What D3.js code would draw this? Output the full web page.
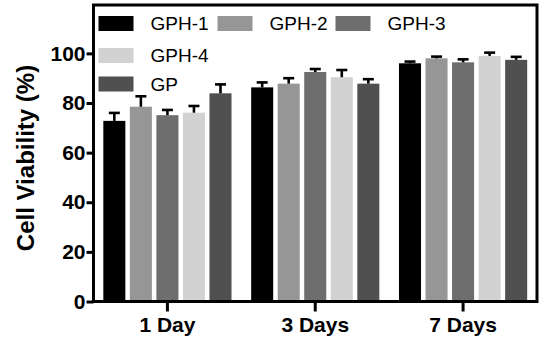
<!DOCTYPE html>
<html>
<head>
<meta charset="utf-8">
<script src="https://cdn.jsdelivr.net/npm/d3@7"></script>
<style>
  body { margin: 0; background: #fff; }
  svg { display: block; font-family: "Liberation Sans", Arial, sans-serif; }
</style>
</head>
<body>
<svg width="550" height="341"></svg>
<script>
(function (d3) {
  'use strict';

  const days = ['1 Day', '3 Days', '7 Days'];
  const groups = ['GPH-1', 'GPH-2', 'GPH-3', 'GPH-4', 'GP'];
  const colors = ['#000000', '#969696', '#6e6e6e', '#d2d2d2', '#505050'];

  // mean viability per group, one array per day
  const day1 = [72.8, 78.5, 75.1, 76.1, 83.9];
  const day3 = [86.3, 87.8, 92.5, 90.4, 87.8];
  const day7 = [96.0, 98.0, 96.4, 99.0, 97.4];
  // error bars (upper only)
  const err1 = [3.2, 4.2, 2.1, 2.7, 3.6];
  const err3 = [2.0, 2.2, 1.2, 2.9, 1.8];
  const err7 = [0.7, 0.7, 1.2, 1.3, 1.2];

  const yTicks = [0, 20, 40, 60, 80, 100];

  const means = [day1, day3, day7];
  const errs = [err1, err3, err7];
  const data = [];
  days.forEach((day, i) => {
    groups.forEach((g, j) => {
      data.push({ day, group: g, value: means[i][j], err: errs[i][j] });
    });
  });

  const svg = d3.select('svg');
  const frame = { left: 93.5, right: 537, top: 5, bottom: 301.5 };

  const xScale = d3.scaleBand()
    .domain(days)
    .range([frame.left, frame.right])
    .padding(0);

  const xInner = d3.scaleBand()
    .domain(groups)
    .range([0, xScale.bandwidth()])
    .paddingInner(0.17)
    .paddingOuter(0.37);

  const yScale = d3.scaleLinear()
    .domain([0, 119.5])
    .range([frame.bottom, frame.top]);

  const color = d3.scaleOrdinal().domain(groups).range(colors);

  // bars
  svg.append('g').selectAll('rect').data(data)
    .enter().append('rect')
      .attr('x', d => xScale(d.day) + xInner(d.group))
      .attr('y', d => yScale(d.value))
      .attr('width', xInner.bandwidth())
      .attr('height', d => yScale(0) - yScale(d.value))
      .attr('fill', d => color(d.group));

  // error bars
  const errG = svg.append('g')
    .attr('stroke', '#000')
    .attr('stroke-width', 2.6);
  const cx = d => xScale(d.day) + xInner(d.group) + xInner.bandwidth() / 2;
  errG.selectAll('.stem').data(data)
    .enter().append('line')
      .attr('class', 'stem')
      .attr('x1', cx).attr('x2', cx)
      .attr('y1', d => yScale(d.value))
      .attr('y2', d => yScale(d.value + d.err));
  errG.selectAll('.cap').data(data)
    .enter().append('line')
      .attr('class', 'cap')
      .attr('x1', d => cx(d) - 5.5).attr('x2', d => cx(d) + 5.5)
      .attr('y1', d => yScale(d.value + d.err))
      .attr('y2', d => yScale(d.value + d.err));

  // frame
  svg.append('rect')
    .attr('x', frame.left).attr('y', frame.top)
    .attr('width', frame.right - frame.left).attr('height', frame.bottom - frame.top)
    .attr('fill', 'none')
    .attr('stroke', '#000')
    .attr('stroke-width', 3);

  const styleTicks = g => {
    g.select('.domain').remove();
    g.selectAll('line').attr('stroke-width', 3);
    g.selectAll('text')
      .attr('font-size', 21)
      .attr('font-weight', 'bold')
      .attr('font-family', '"Liberation Sans", Arial, sans-serif')
      .attr('fill', '#000');
  };

  // y axis
  svg.append('g')
    .attr('transform', `translate(${frame.left},0)`)
    .call(d3.axisLeft(yScale).tickValues(yTicks).tickSize(7).tickPadding(1))
    .call(styleTicks);

  // x axis
  svg.append('g')
    .attr('transform', `translate(0,${frame.bottom})`)
    .call(d3.axisBottom(xScale).tickSize(10).tickPadding(6))
    .call(styleTicks);

  // y title
  svg.append('text')
    .attr('transform', 'translate(33.5,158) rotate(-90)')
    .attr('text-anchor', 'middle')
    .attr('font-size', 24)
    .attr('font-weight', 'bold')
    .text('Cell Viability (%)');

  // legend
  const legendPos = [
    { x: 98.5, y: 23.5 }, { x: 217.5, y: 23.5 }, { x: 335.5, y: 23.5 },
    { x: 98.5, y: 55.5 }, { x: 98.5, y: 84 }
  ];
  const item = svg.append('g').selectAll('g').data(groups)
    .enter().append('g')
      .attr('transform', (d, i) => `translate(${legendPos[i].x},${legendPos[i].y})`);
  item.append('rect')
    .attr('x', 0).attr('y', -7.5)
    .attr('width', 35).attr('height', 15)
    .attr('fill', d => color(d));
  item.append('text')
    .attr('x', 52)
    .attr('dy', '0.35em')
    .attr('font-size', 19)
    .text(d => d);

}(d3));
</script>
</body>
</html>
